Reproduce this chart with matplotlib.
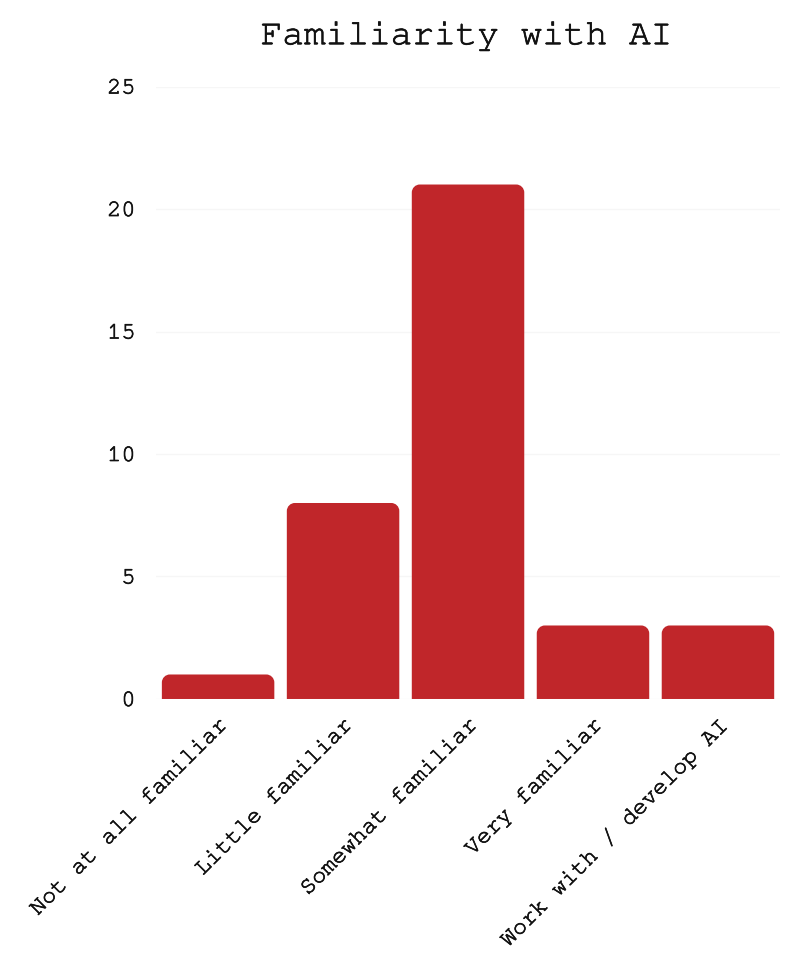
import numpy as np
import matplotlib
matplotlib.use("Agg")
import matplotlib.pyplot as plt
import matplotlib.patheffects as pe
from matplotlib.path import Path
from matplotlib.patches import PathPatch

categories = ["Not at all familiar", "Little familiar", "Somewhat familiar",
              "Very familiar", "Work with / develop AI"]
counts = [1, 8, 21, 3, 3]
yticks = [0, 5, 10, 15, 20, 25]

bar_color = "#c0262a"
plt.rcParams["font.family"] = ["FreeMono", "Liberation Mono", "DejaVu Sans Mono"]
thicker = [pe.withStroke(linewidth=0.5, foreground="#111111")]

fig = plt.figure(figsize=(7.98, 9.79), dpi=100)
ax = fig.add_axes([0.195, 0.285, 0.783, 0.6256])

bars = ax.bar(range(len(categories)), counts, width=0.9, color=bar_color)
ax.set_xlim(-0.5, len(categories) - 0.5)
ax.set_ylim(0, 25)


def rounded_top(x0, w, h, rx, ry):
    # rectangle with rounded top corners (cubic bezier approximation)
    k = 0.5523
    x1 = x0 + w
    verts = [(x0, 0), (x0, h - ry),
             (x0, h - ry + k * ry), (x0 + rx - k * rx, h), (x0 + rx, h),
             (x1 - rx, h),
             (x1 - rx + k * rx, h), (x1, h - ry + k * ry), (x1, h - ry),
             (x1, 0), (x0, 0)]
    codes = [Path.MOVETO, Path.LINETO,
             Path.CURVE4, Path.CURVE4, Path.CURVE4,
             Path.LINETO,
             Path.CURVE4, Path.CURVE4, Path.CURVE4,
             Path.LINETO, Path.CLOSEPOLY]
    return Path(verts, codes)


# corner radius of ~8 px converted to data units
bbox = ax.get_window_extent()
rx = 8 * (len(categories)) / bbox.width
ry = 8 * 25 / bbox.height
for b in bars:
    x0, w, h = b.get_x(), b.get_width(), b.get_height()
    b.remove()
    ax.add_patch(PathPatch(rounded_top(x0, w, h, rx, ry),
                           facecolor=bar_color, edgecolor="none", zorder=2))

ax.set_yticks(yticks)
ax.set_xticks(range(len(categories)))
ax.set_xticklabels(categories, rotation=45, ha="right", va="top",
                   rotation_mode="anchor")
ax.tick_params(axis="both", length=0, labelsize=17, colors="#111111")
ax.tick_params(axis="x", pad=12)
ax.tick_params(axis="y", pad=14.5)
for lbl in ax.get_xticklabels() + ax.get_yticklabels():
    lbl.set_path_effects(thicker)
ax.grid(axis="y", color="#f6f6f6", linewidth=1, zorder=0)
ax.set_axisbelow(True)
for s in ax.spines.values():
    s.set_visible(False)

fig.text(0.585, 0.962, "Familiarity with AI", ha="center", va="center",
         fontsize=26, color="#111111", path_effects=thicker)

fig.savefig("out.png", dpi=100)
